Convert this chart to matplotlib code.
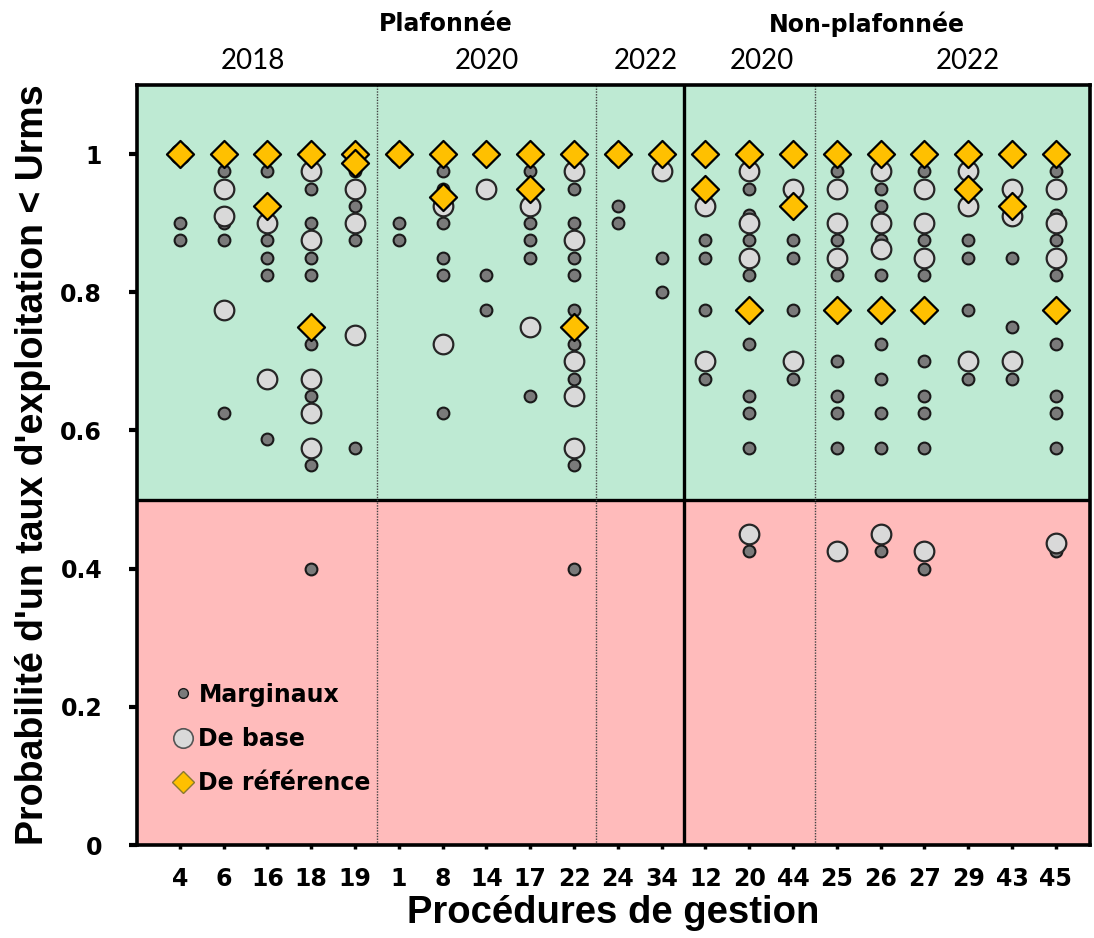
import matplotlib
matplotlib.use("Agg")
import matplotlib.pyplot as plt
from matplotlib.lines import Line2D

plt.rcParams['font.family'] = ['DejaVu Sans']

# Procédures de gestion (axis order)
procedures = ["4", "6", "16", "18", "19", "1", "8", "14", "17", "22", "24", "34",
              "12", "20", "44", "25", "26", "27", "29", "43", "45"]

# Probabilities for the "Marginaux" operating models
marginaux = [
    [1.0, 0.9, 0.875],
    [1.0, 0.975, 0.9, 0.875, 0.625],
    [1.0, 0.975, 0.875, 0.85, 0.825, 0.5875],
    [1.0, 0.95, 0.9, 0.85, 0.825, 0.725, 0.65, 0.55, 0.4],
    [0.975, 0.925, 0.875, 0.575],
    [1.0, 0.9, 0.875],
    [0.975, 0.95, 0.9, 0.85, 0.825, 0.625],
    [1.0, 0.825, 0.775],
    [0.975, 0.9, 0.875, 0.85, 0.65],
    [0.95, 0.9, 0.85, 0.825, 0.775, 0.725, 0.675, 0.55, 0.4],
    [1.0, 0.925, 0.9],
    [1.0, 0.85, 0.8],
    [1.0, 0.875, 0.85, 0.775, 0.675],
    [0.95, 0.9125, 0.875, 0.825, 0.725, 0.65, 0.625, 0.575, 0.425],
    [1.0, 0.875, 0.85, 0.775, 0.675],
    [0.975, 0.875, 0.825, 0.7, 0.65, 0.625, 0.575],
    [0.95, 0.925, 0.875, 0.825, 0.725, 0.675, 0.625, 0.575, 0.425],
    [0.975, 0.875, 0.825, 0.7, 0.65, 0.625, 0.575, 0.4],
    [1.0, 0.875, 0.85, 0.775, 0.675],
    [1.0, 0.85, 0.75, 0.675],
    [0.975, 0.9125, 0.875, 0.825, 0.725, 0.65, 0.625, 0.575, 0.425],
]

# Probabilities for the "De base" operating models
de_base = [
    [1.0],
    [0.95, 0.91, 0.775],
    [0.9, 0.675],
    [0.975, 0.875, 0.675, 0.625, 0.575],
    [0.95, 0.9, 0.7375],
    [1.0],
    [0.925, 0.725],
    [0.95],
    [0.925, 0.75],
    [0.975, 0.875, 0.7, 0.65, 0.575],
    [1.0],
    [0.975],
    [0.925, 0.7],
    [0.975, 0.9, 0.85, 0.45],
    [0.95, 0.7],
    [0.95, 0.9, 0.85, 0.425],
    [0.975, 0.9, 0.8625, 0.45],
    [0.95, 0.9, 0.85, 0.425],
    [0.975, 0.925, 0.7],
    [0.95, 0.91, 0.7],
    [0.95, 0.9, 0.85, 0.4375],
]

# Probabilities for the "De référence" operating models
de_reference = [
    [1.0],
    [1.0],
    [1.0, 0.925],
    [1.0, 0.75],
    [1.0, 0.9875],
    [1.0],
    [1.0, 0.9375],
    [1.0],
    [1.0, 0.95],
    [1.0, 0.75],
    [1.0],
    [1.0],
    [1.0, 0.95],
    [1.0, 0.775],
    [1.0, 0.925],
    [1.0, 0.775],
    [1.0, 0.775],
    [1.0, 0.775],
    [1.0, 0.95],
    [1.0, 0.925],
    [1.0, 0.775],
]

yticks = [0, 0.2, 0.4, 0.6, 0.8, 1]
ytick_labels = ["0", "0.2", "0.4", "0.6", "0.8", "1"]

# Group headers: (label, x position in category units)
header_groups = [("Plafonnée", 6.07), ("Non-plafonnée", 15.68)]
year_labels = [("2018", 1.67), ("2020", 7.0), ("2022", 10.64), ("2020", 13.29), ("2022", 17.99)]
dotted_separators = [4.5, 9.5, 14.5]
solid_separator = 11.5

GREEN = "#BEEAD3"
RED = "#FFBBBB"

fig = plt.figure(figsize=(10.94, 9.38), dpi=100)
ax = fig.add_axes([0.1252, 0.0991, 0.8711, 0.8103])

ax.set_xlim(-0.98, 20.78)
ax.set_ylim(0, 1.1)
ax.axhspan(0.5, 1.1, color=GREEN, zorder=0, lw=0)
ax.axhspan(0.0, 0.5, color=RED, zorder=0, lw=0)
ax.axhline(0.5, color="black", lw=2.4, zorder=1)
for xs in dotted_separators:
    ax.axvline(xs, color="#444444", lw=1.0, ls=(0, (1.0, 1.0)), zorder=1)
ax.axvline(solid_separator, color="black", lw=2.4, zorder=1)


def expand(series):
    xs, ys = [], []
    for i, vals in enumerate(series):
        xs.extend([i] * len(vals))
        ys.extend(vals)
    return xs, ys


mx, my = expand(marginaux)
bx, by = expand(de_base)
rx, ry = expand(de_reference)

ax.scatter(mx, my, s=72, marker="o", facecolor="#7A7A7A", edgecolor="#1A1A1A",
           linewidth=1.5, zorder=3)
ax.scatter(bx, by, s=200, marker="o", facecolor="#D9D9D9", edgecolor="#262626",
           linewidth=1.6, zorder=4)
ax.scatter(rx, ry, s=190, marker="D", facecolor="#FFC000", edgecolor="black",
           linewidth=1.6, zorder=5)

for side in ax.spines.values():
    side.set_linewidth(2.6)
    side.set_zorder(6)

ax.set_xticks(range(len(procedures)))
ax.set_xticklabels(procedures, fontsize=17, fontweight="bold")
ax.set_yticks(yticks)
ax.set_yticklabels(ytick_labels, fontsize=17, fontweight="bold")
ax.tick_params(axis="y", direction="out", length=6, width=3, pad=19)
ax.tick_params(axis="x", direction="out", length=3, width=2.5, pad=13)

ax.set_xlabel("Procédures de gestion", fontsize=27.5, fontweight="bold",
              family=["Liberation Sans", "DejaVu Sans"], labelpad=3)
ax.set_ylabel("Probabilité d'un taux d'exploitation < Urms", fontsize=27,
              fontweight="bold", family=["Liberation Sans", "DejaVu Sans"], labelpad=7)

for label, xpos in header_groups:
    ax.text(xpos, (845 - 25) / 690, label, fontsize=17, fontweight="bold",
            ha="center", va="center", transform=ax.transData, clip_on=False)
for label, xpos in year_labels:
    ax.text(xpos, (845 - 62) / 690, label, fontsize=20,
            ha="center", va="center", family=["Lato", "Liberation Sans"],
            transform=ax.transData, clip_on=False)

handles = [
    Line2D([], [], ls="none", marker="o", markersize=7, markerfacecolor="#7A7A7A",
           markeredgecolor="#1A1A1A", markeredgewidth=1.0),
    Line2D([], [], ls="none", marker="o", markersize=14, markerfacecolor="#D9D9D9",
           markeredgecolor="#555555", markeredgewidth=1.2),
    Line2D([], [], ls="none", marker="D", markersize=11, markerfacecolor="#FFC000",
           markeredgecolor="#8A7A30", markeredgewidth=1.0),
]
ax.legend(handles, ["Marginaux", "De base", "De référence"], loc="lower left",
          bbox_to_anchor=(0.036, 0.066), frameon=False, handletextpad=0.15,
          labelspacing=0.85, handlelength=1.0, borderaxespad=0, borderpad=0,
          prop={"size": 17, "weight": "bold"})

fig.savefig("out.png", dpi=100)
